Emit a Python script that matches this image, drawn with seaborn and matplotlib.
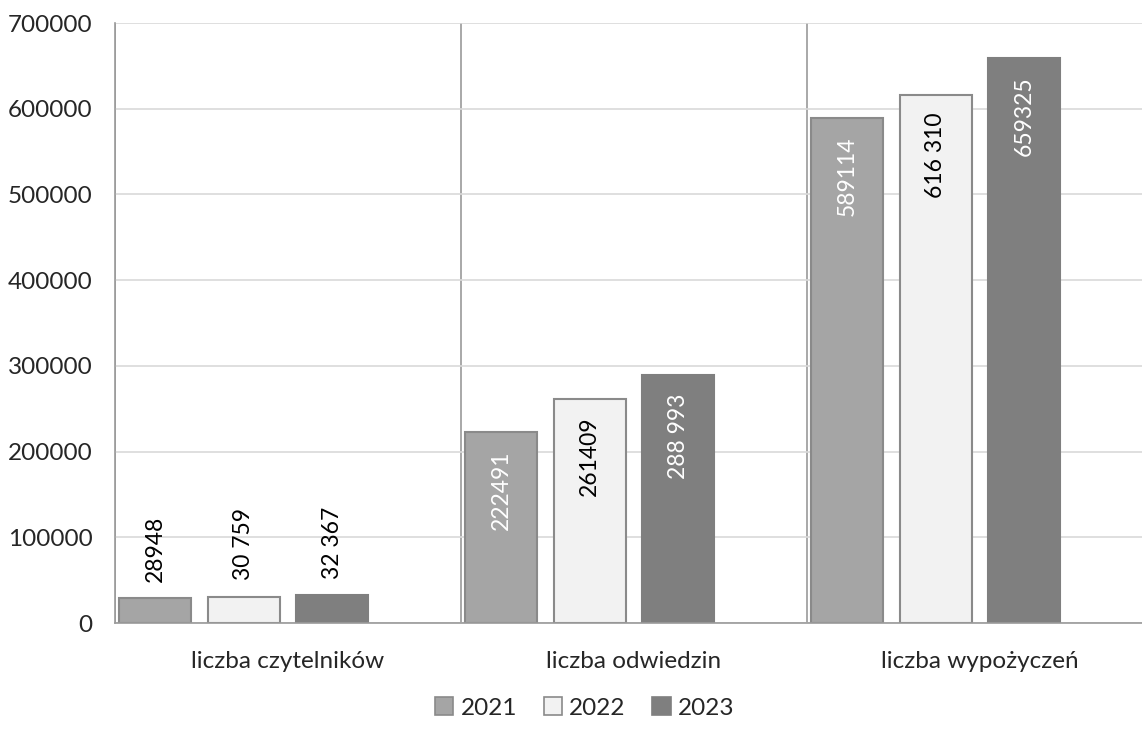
import matplotlib
matplotlib.use("Agg")
import matplotlib.pyplot as plt
import matplotlib.ticker as mticker
from matplotlib.patches import Patch
import seaborn as sns
import pandas as pd

# dane
kategorie = ['liczba czytelników', 'liczba odwiedzin', 'liczba wypożyczeń']
lata = ['2021', '2022', '2023']
wartosci_2021 = [28948, 222491, 589114]
wartosci_2022 = [30759, 261409, 616310]
wartosci_2023 = [32367, 288993, 659325]
etykiety_2021 = ['28948', '222491', '589114']
etykiety_2022 = ['30 759', '261409', '616 310']
etykiety_2023 = ['32 367', '288 993', '659325']
y_ticks = [0, 100000, 200000, 300000, 400000, 500000, 600000, 700000]

kolory = {'2021': '#a5a5a5', '2022': '#f2f2f2', '2023': '#7f7f7f', ' ': '#ffffff'}
kolory_tekstu = {'2021': 'white', '2022': 'black', '2023': 'white'}

df = pd.DataFrame({
    'kategoria': kategorie * 3,
    'rok': [r for r in lata for _ in kategorie],
    'wartosc': wartosci_2021 + wartosci_2022 + wartosci_2023,
})
etykiety = {'2021': etykiety_2021, '2022': etykiety_2022, '2023': etykiety_2023}

sns.set_style('white')
plt.rcParams['font.family'] = ['Lato', 'DejaVu Sans']

fig = plt.figure(figsize=(11.42, 7.33), dpi=100)
ax = fig.add_axes([115 / 1142, 110 / 733, 1 - 115 / 1142, 600 / 733])

# pusty czwarty poziom rezerwuje miejsce po prawej stronie grupy
sns.barplot(data=df, x='kategoria', y='wartosc', hue='rok',
            hue_order=lata + [' '], palette=kolory, width=1.023, gap=0.186,
            edgecolor='#8a8a8a', linewidth=1.5, errorbar=None,
            legend=False, ax=ax)

for cont, rok in zip(ax.containers, lata):
    for bar, txt in zip(cont, etykiety[rok]):
        if rok == '2023':
            bar.set_edgecolor(kolory['2023'])
        h = bar.get_height()
        x = bar.get_x() + bar.get_width() / 2
        if h < 100000:
            ax.annotate(txt, (x, h), xytext=(0, 12), textcoords='offset points',
                        rotation=90, ha='center', va='bottom', fontsize=16.5, color='black')
        else:
            ax.annotate(txt, (x, h), xytext=(0, -13), textcoords='offset points',
                        rotation=90, ha='center', va='top', fontsize=16.5,
                        color=kolory_tekstu[rok])

ax.set_yticks(y_ticks)
ax.yaxis.set_major_formatter(mticker.FuncFormatter(lambda v, p: f'{int(v)}'))
ax.set_xlabel('')
ax.set_ylabel('')

ax.set_xticks([0, 1, 2])
ax.set_xticks([-0.5, 0.5, 1.5, 2.5], minor=True)
# prawa granica wykresu wychodzi poza obraz
ax.set_xlim(-0.5, -0.5 + 1027 / 346)
ax.set_ylim(0, 700000)
ax.tick_params(axis='x', which='major', length=0, pad=20, labelsize=17.5)
ax.tick_params(axis='x', which='minor', length=7, color='#9a9a9a', width=1.2)
ax.tick_params(axis='y', length=7, color='#9a9a9a', width=1.2, pad=9, labelsize=17.5)
ax.grid(axis='y', color='#d9d9d9', linewidth=1.2)
ax.grid(axis='x', which='minor', color='#9a9a9a', linewidth=1.2)
ax.set_axisbelow(True)

for s in ['top', 'right']:
    ax.spines[s].set_visible(False)
for s in ['left', 'bottom']:
    ax.spines[s].set_color('#9a9a9a')
    ax.spines[s].set_linewidth(1.2)

uchwyty = [Patch(facecolor=kolory[r], edgecolor='#8a8a8a' if r != '2023' else kolory[r],
                 linewidth=1.2) for r in lata]
fig.legend(uchwyty, lata, loc='center', bbox_to_anchor=(0.512, 0.034), ncol=3,
           frameon=False, fontsize=17.5, handlelength=0.75, handleheight=0.75,
           handletextpad=0.3, columnspacing=1.1)

fig.savefig('out.png', dpi=100)
